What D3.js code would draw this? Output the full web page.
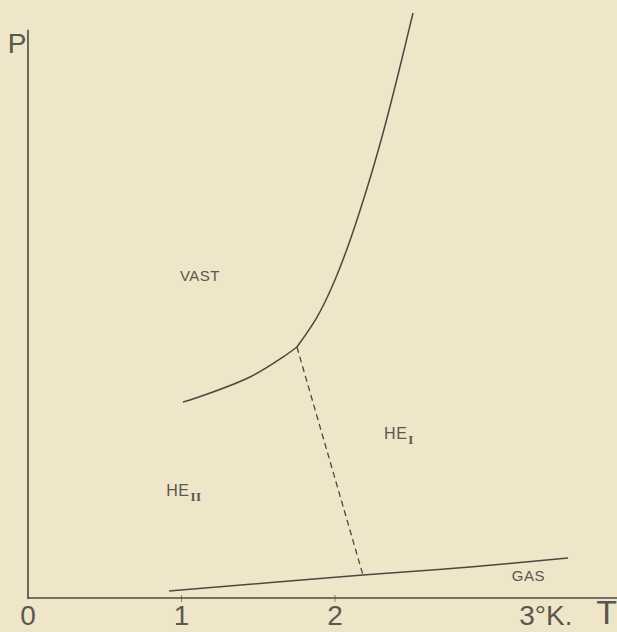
<!DOCTYPE html>
<html>
<head>
<meta charset="utf-8">
<script src="https://cdn.jsdelivr.net/npm/d3@7"></script>
<style>
  html, body { margin: 0; padding: 0; background: #efe5c9; }
  svg { display: block; }
  text { font-family: "Liberation Sans Narrow", "Liberation Sans", "DejaVu Sans Condensed", sans-serif; }
</style>
</head>
<body>
<script>
// ---- data (T in K, P in atm, schematic helium phase diagram) ----
const meltLowT  = [1.01, 1.055, 1.446, 1.661, 1.752];
const meltLowP  = [23.21, 23.45, 26.18, 28.54, 29.73];
const meltHighT = [1.752, 1.883, 1.98, 2.078, 2.195, 2.313, 2.423, 2.508];
const meltHighP = [29.73, 33.28, 36.84, 41.34, 47.73, 55.08, 62.89, 69.29];
const lambdaT   = [1.752, 2.182];
const lambdaP   = [29.73, 2.72];
const vaporT    = [0.919, 2.182, 2.88, 3.518];
const vaporP    = [0.83, 2.72, 3.67, 4.74];
const tickValues = [1, 2];
const tickLabels = ["0", "1", "2", "3°K."];
const tickLabelPos = [0, 1, 2, 3.2];
const regionNames = ["VAST", "HE", "HE", "GAS"];
const regionSubs  = ["", "II", "I", ""];
const regionT     = [1.12, 0.9, 2.32, 3.26];
const regionP     = [37.5, 12.1, 18.8, 2.0];

const W = 617, H = 632;
const x = d3.scaleLinear().domain([0, 4]).range([28, 642]);
const y = d3.scaleLinear().domain([0, 70]).range([598, 7]);
const ink = "#4b4840";
const textInk = "#5a574f";

const svg = d3.select("body").append("svg").attr("width", W).attr("height", H);
svg.append("rect").attr("width", W).attr("height", H).attr("fill", "#efe5c9");

// axes
svg.append("line").attr("x1", x(0)).attr("x2", x(0)).attr("y1", y(0) + 1).attr("y2", y(67.3))
  .attr("stroke", ink).attr("stroke-width", 1.6);
svg.append("line").attr("x1", x(0)).attr("x2", x(3.9)).attr("y1", y(0)).attr("y2", y(0))
  .attr("stroke", ink).attr("stroke-width", 1.6);
svg.selectAll("line.tick").data(tickValues).enter().append("line").attr("class", "tick")
  .attr("x1", d => x(d)).attr("x2", d => x(d)).attr("y1", y(0) - 3).attr("y2", y(0) + 4)
  .attr("stroke", ink).attr("stroke-width", 1).attr("opacity", 0.6);

// tick labels
svg.selectAll("text.tl").data(tickLabels).enter().append("text").attr("class", "tl")
  .attr("x", (d, i) => x(tickLabelPos[i]))
  .attr("y", 625)
  .attr("text-anchor", (d, i) => i === 3 ? "start" : "middle")
  .attr("font-size", 28).attr("fill", textInk)
  .text(d => d);
svg.append("text").attr("x", x(3.77)).attr("y", 624).attr("text-anchor", "middle")
  .attr("font-size", 34).attr("fill", textInk).text("T");
svg.append("text").attr("x", 17).attr("y", 53).attr("text-anchor", "middle")
  .attr("font-size", 28).attr("fill", textInk).text("P");

// curves
const mk = (T, P) => T.map((t, i) => [t, P[i]]);
const line = d3.line().x(d => x(d[0])).y(d => y(d[1])).curve(d3.curveCatmullRom);
const straight = d3.line().x(d => x(d[0])).y(d => y(d[1]));

svg.append("path").attr("d", line(mk(meltLowT, meltLowP)))
  .attr("fill", "none").attr("stroke", ink).attr("stroke-width", 1.5);
svg.append("path").attr("d", line(mk(meltHighT, meltHighP)))
  .attr("fill", "none").attr("stroke", ink).attr("stroke-width", 1.5);
svg.append("path").attr("d", line(mk(vaporT, vaporP)))
  .attr("fill", "none").attr("stroke", ink).attr("stroke-width", 1.5);
svg.append("path").attr("d", straight(mk(lambdaT, lambdaP)))
  .attr("fill", "none").attr("stroke", ink).attr("stroke-width", 1.3)
  .attr("stroke-dasharray", "6,4");

// region labels
regionNames.forEach((n, i) => {
  const t = svg.append("text").attr("x", x(regionT[i])).attr("y", y(regionP[i]))
    .attr("font-size", i === 1 || i === 2 ? 16 : 15).attr("fill", textInk)
    .attr("text-anchor", i === 0 || i === 3 ? "middle" : "start")
    .attr("letter-spacing", 0.5)
    .text(n);
  if (regionSubs[i]) {
    t.append("tspan").attr("dy", 5).attr("dx", 1)
      .attr("font-family", "'Liberation Serif', serif").attr("font-weight", "bold")
      .attr("font-size", 13).text(regionSubs[i]);
  }
});
</script>
</body>
</html>
